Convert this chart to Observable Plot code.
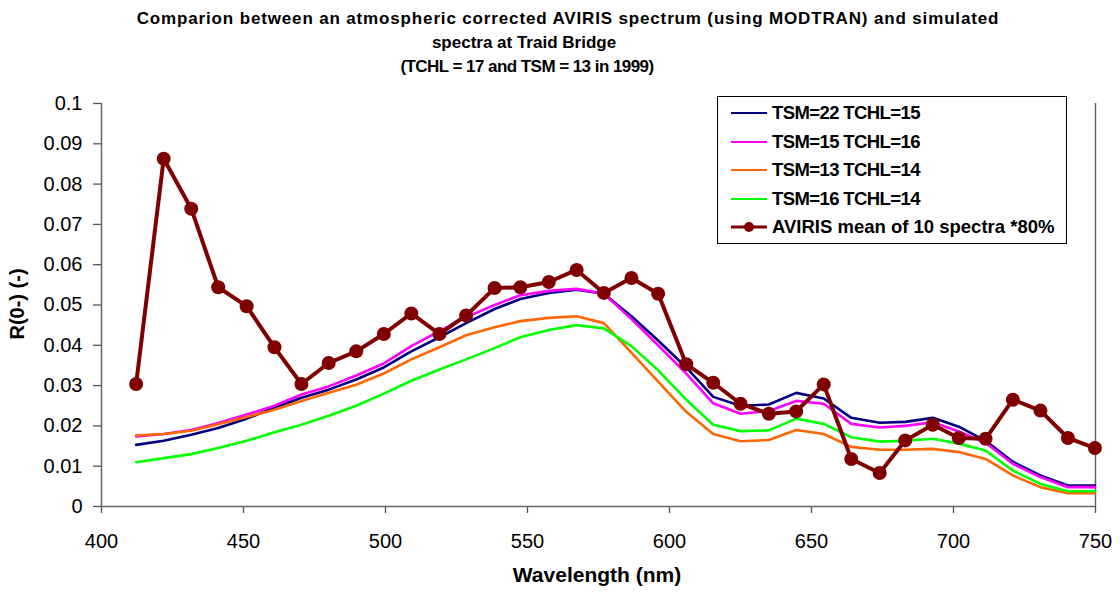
<!DOCTYPE html>
<html>
<head>
<meta charset="utf-8">
<script src="https://cdn.jsdelivr.net/npm/d3@7"></script>
<script src="https://cdn.jsdelivr.net/npm/@observablehq/plot@0.6"></script>
<style>
  body { margin: 0; background: #fff; font-family: "Liberation Sans", Arial, sans-serif; }
  #wrap { position: relative; width: 1120px; height: 592px; overflow: hidden; background: #fff; }
  #chart { position: absolute; left: 0; top: 0; }
  .t { position: absolute; white-space: nowrap; font-weight: bold; color: #000; transform: translate(-50%, -50%); }
  .title { font-size: 17px; }
  #legend { position: absolute; left: 717px; top: 96px; width: 350px; height: 148px; box-sizing: border-box; border: 1.3px solid #000; background: #fff; }
  .lrow { position: absolute; left: 13px; height: 28px; display: flex; align-items: center; font-weight: bold; font-size: 18.5px; white-space: nowrap; }
  .lrow svg { margin-right: 5px; }
</style>
</head>
<body>
<div id="wrap">
  <div id="chart"></div>
  <div class="t title" id="title1" style="left:568px; top:19px; letter-spacing:0.85px;"></div>
  <div class="t title" id="title2" style="left:524px; top:43px;"></div>
  <div class="t title" id="title3" style="left:527px; top:67px; letter-spacing:-0.55px;"></div>
  <div class="t" id="ylabel" style="left:17px; top:304px; font-size:20px; transform: translate(-50%, -50%) rotate(-90deg);"></div>
  <div class="t" id="xlabel" style="left:597px; top:575px; font-size:21px;"></div>
  <div id="legend"></div>
</div>
<script>
// ---- data ----
const titleLines = [
  "Comparion between an atmospheric corrected AVIRIS spectrum (using MODTRAN) and simulated",
  "spectra at Traid Bridge",
  "(TCHL = 17 and TSM = 13 in 1999)"
];
const xLabel = "Wavelength (nm)";
const yLabel = "R(0-) (-)";
const xTicks = [400, 450, 500, 550, 600, 650, 700, 750];
const yTicks = [0, 0.01, 0.02, 0.03, 0.04, 0.05, 0.06, 0.07, 0.08, 0.09, 0.1];

const wavelength = [412.2, 421.9, 431.6, 441.1, 451.1, 460.9, 470.4, 480.0, 489.7, 499.4,
  509.1, 519.0, 528.4, 538.4, 547.5, 557.5, 567.3, 576.9, 586.6, 596.0,
  605.9, 615.4, 625.0, 635.0, 644.6, 654.3, 664.0, 674.0, 683.0, 692.7,
  701.9, 711.3, 720.9, 730.6, 740.3, 749.8];

const seriesNames = ["TSM=22 TCHL=15", "TSM=15 TCHL=16", "TSM=13 TCHL=14", "TSM=16 TCHL=14", "AVIRIS mean of 10 spectra *80%"];

const tsm22_tchl15 = [0.0153, 0.0163, 0.0178, 0.0195, 0.0218, 0.0245, 0.0270, 0.0290, 0.0315, 0.0345,
  0.0385, 0.0420, 0.0455, 0.0490, 0.0515, 0.0530, 0.0538, 0.0528, 0.0472, 0.0412,
  0.0345, 0.0272, 0.0250, 0.0253, 0.0282, 0.0268, 0.0220, 0.0208, 0.0210, 0.0220,
  0.0198, 0.0163, 0.0111, 0.0077, 0.0052, 0.0052];
const tsm15_tchl16 = [0.0174, 0.0180, 0.0190, 0.0207, 0.0228, 0.0250, 0.0278, 0.0298, 0.0325, 0.0355,
  0.0398, 0.0435, 0.0470, 0.0500, 0.0524, 0.0535, 0.0540, 0.0528, 0.0465, 0.0400,
  0.0330, 0.0256, 0.0230, 0.0237, 0.0262, 0.0255, 0.0205, 0.0196, 0.0200, 0.0209,
  0.0186, 0.0158, 0.0106, 0.0073, 0.0048, 0.0048];
const tsm13_tchl14 = [0.0176, 0.0180, 0.0188, 0.0204, 0.0222, 0.0240, 0.0262, 0.0282, 0.0302, 0.0330,
  0.0365, 0.0395, 0.0425, 0.0445, 0.0460, 0.0468, 0.0472, 0.0455, 0.0382, 0.0310,
  0.0235, 0.0180, 0.0162, 0.0165, 0.0190, 0.0180, 0.0148, 0.0141, 0.0141, 0.0143,
  0.0135, 0.0118, 0.0077, 0.0048, 0.0033, 0.0033];
const tsm16_tchl14 = [0.0110, 0.0120, 0.0130, 0.0145, 0.0163, 0.0184, 0.0203, 0.0225, 0.0250, 0.0280,
  0.0312, 0.0340, 0.0365, 0.0393, 0.0420, 0.0438, 0.0450, 0.0442, 0.0398, 0.0338,
  0.0265, 0.0203, 0.0187, 0.0189, 0.0218, 0.0205, 0.0172, 0.0161, 0.0163, 0.0168,
  0.0156, 0.0139, 0.0089, 0.0056, 0.0038, 0.0038];
const aviris = [0.0304, 0.0863, 0.0739, 0.0544, 0.0497, 0.0395, 0.0304, 0.0356, 0.0385, 0.0428,
  0.0479, 0.0428, 0.0474, 0.0542, 0.0544, 0.0557, 0.0587, 0.0530, 0.0567, 0.0528,
  0.0353, 0.0307, 0.0255, 0.0230, 0.0236, 0.0303, 0.0118, 0.0083, 0.0164, 0.0203,
  0.0170, 0.0168, 0.0265, 0.0238, 0.0170, 0.0145];

// ---- styles (kept apart from the data) ----
const colors = ["#000080", "#ff00ff", "#ff6600", "#00ff00", "#800000"];
const modelValues = [tsm22_tchl15, tsm15_tchl16, tsm13_tchl14, tsm16_tchl14];

const rows = [];
modelValues.forEach((vals, k) => vals.forEach((v, i) => rows.push({ series: seriesNames[k], wl: wavelength[i], r: v })));
const avRows = aviris.map((v, i) => ({ series: seriesNames[4], wl: wavelength[i], r: v }));

const lineMarks = modelValues.map((_, k) =>
  Plot.line(rows.filter(d => d.series === seriesNames[k]), { x: "wl", y: "r", stroke: colors[k], strokeWidth: 2.6 })
);

const fmt = d => d === 0 ? "0" : String(+d.toFixed(2));

const chart = Plot.plot({
  width: 1120,
  height: 592,
  marginTop: 103,
  marginBottom: 86,
  marginLeft: 101,
  marginRight: 25,
  style: { fontFamily: '"Liberation Sans", Arial, sans-serif', fontSize: "20px", color: "#000", background: "transparent" },
  x: { domain: [400, 750] },
  y: { domain: [0, 0.1] },
  marks: [
    Plot.axisX({ ticks: xTicks, tickSize: 7, tickPadding: 20, label: null, fontSize: 20, stroke: "#555", strokeWidth: 1.3 }),
    Plot.axisY({ ticks: yTicks, tickSize: 8, tickPadding: 11, label: null, fontSize: 20, tickFormat: fmt, stroke: "#555", strokeWidth: 1.3 }),
    Plot.ruleX([xTicks[0], xTicks[xTicks.length - 1]], { stroke: "#666", strokeWidth: 1.5 }),
    Plot.ruleY([yTicks[0]], { stroke: "#666", strokeWidth: 1.5 }),
    ...lineMarks,
    Plot.line(avRows, { x: "wl", y: "r", stroke: colors[4], strokeWidth: 4 }),
    Plot.dot(avRows, { x: "wl", y: "r", r: 7, fill: colors[4], stroke: "none" })
  ]
});
document.getElementById("chart").appendChild(chart);

// titles and axis labels
document.getElementById("title1").textContent = titleLines[0];
document.getElementById("title2").textContent = titleLines[1];
document.getElementById("title3").textContent = titleLines[2];
document.getElementById("xlabel").textContent = xLabel;
document.getElementById("ylabel").textContent = yLabel;

// legend
const legend = document.getElementById("legend");
const rowCenters = [16, 44.6, 73.2, 101.8, 130.4];
seriesNames.forEach((name, k) => {
  const row = document.createElement("div");
  row.className = "lrow";
  row.style.top = (rowCenters[k] - 14) + "px";
  const isAv = k === 4;
  if (!isAv) row.style.letterSpacing = "-0.6px";
  row.innerHTML = `<svg width="36" height="28"><line x1="0" x2="36" y1="14" y2="14" stroke="${colors[k]}" stroke-width="${isAv ? 3.2 : 2.2}"/>${isAv ? `<circle cx="18" cy="14" r="5" fill="${colors[k]}"/>` : ""}</svg>`;
  const span = document.createElement("span");
  span.textContent = name;
  row.appendChild(span);
  legend.appendChild(row);
});
</script>
</body>
</html>
